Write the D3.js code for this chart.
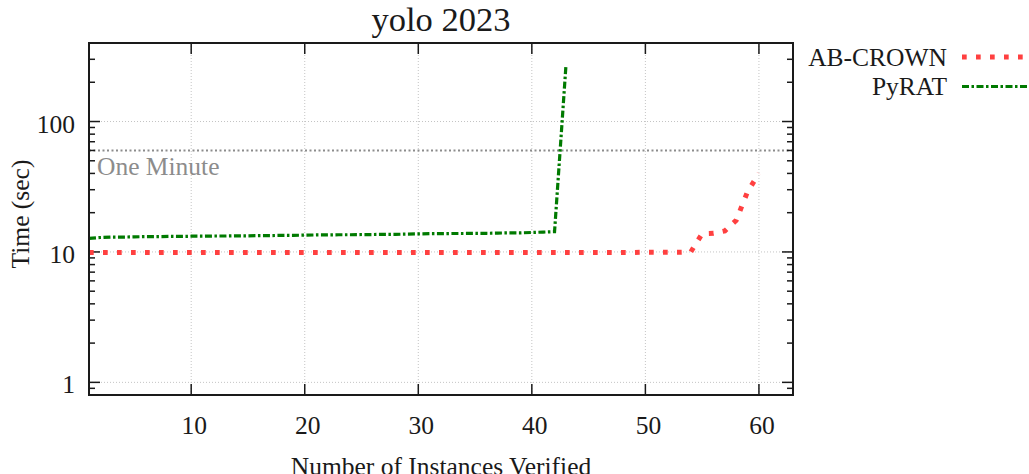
<!DOCTYPE html>
<html>
<head>
<meta charset="utf-8">
<script src="https://cdn.jsdelivr.net/npm/d3@7"></script>
<style>
  body { margin: 0; background: #fff; }
  text { font-family: "Liberation Serif", "DejaVu Serif", serif; fill: #1a1a1a; }
</style>
</head>
<body>
<svg id="chart" width="1029" height="474"></svg>
<script>
// time (sec) to verify the n-th instance, sorted
const abcrownTimes = [
  9.9, 9.9, 9.9, 9.9, 9.9, 9.9, 9.9, 9.9, 9.9, 9.9,
  9.9, 9.9, 9.9, 9.9, 9.9, 9.9, 9.9, 9.9, 9.9, 9.9,
  9.9, 9.9, 9.9, 9.9, 9.9, 9.9, 9.9, 9.9, 9.9, 9.9,
  9.9, 9.9, 9.9, 9.9, 9.9, 9.9, 9.9, 9.9, 9.9, 9.9,
  9.9, 9.9, 9.9, 9.9, 9.9, 9.9, 9.9, 9.9, 9.9, 9.95,
  9.95, 9.95, 9.95, 10.0, 13.8, 13.9, 14.5, 17.5, 29.0, 40.0
];
const pyratTimes = [
  12.7, 12.9, 13.0, 13.0, 13.05, 13.1, 13.1, 13.15, 13.15, 13.2,
  13.2, 13.25, 13.25, 13.3, 13.3, 13.35, 13.35, 13.4, 13.4, 13.45,
  13.5, 13.5, 13.55, 13.55, 13.6, 13.6, 13.65, 13.65, 13.7, 13.75,
  13.8, 13.8, 13.85, 13.85, 13.9, 13.9, 13.95, 14.0, 14.0, 14.1,
  14.2, 14.3, 265
];
const seriesNames = ["AB-CROWN", "PyRAT"];
const xTicks = [10, 20, 30, 40, 50, 60];
const yTicks = [1, 10, 100];
const oneMinute = 60;

const svg = d3.select("#chart");
const plot = { left: 89, right: 793, top: 43, bottom: 395 };

const x = d3.scaleLinear().domain([1, 63]).range([plot.left, plot.right]);
const y = d3.scaleLog().domain([0.8, 400]).range([plot.bottom, plot.top]);

// minor log ticks inside the domain
const yMinor = [];
[0.1, 1, 10, 100].forEach(d => {
  for (let k = 2; k <= 9; k++) {
    const v = +(d * k).toFixed(3);
    if (v >= 0.8 && v <= 400 && !yTicks.includes(v)) yMinor.push(v);
  }
});

// grid
const grid = svg.append("g").attr("stroke", "#c4c4c4").attr("stroke-width", 1)
  .attr("stroke-dasharray", "1,2");
xTicks.forEach(t => grid.append("line")
  .attr("x1", x(t)).attr("x2", x(t)).attr("y1", plot.top).attr("y2", plot.bottom));
yTicks.forEach(t => grid.append("line")
  .attr("x1", plot.left).attr("x2", plot.right).attr("y1", y(t)).attr("y2", y(t)));

// one minute line
svg.append("line")
  .attr("x1", plot.left).attr("x2", plot.right)
  .attr("y1", y(oneMinute)).attr("y2", y(oneMinute))
  .attr("stroke", "#8c8c8c").attr("stroke-width", 2)
  .attr("stroke-dasharray", "2,2.5");
svg.append("text")
  .attr("x", plot.left + 8).attr("y", y(oneMinute) + 25)
  .attr("font-size", "25.5px").style("fill", "#8c8c8c")
  .text("One Minute");

// axes: ticks inward, mirrored on all sides
const axes = svg.append("g").attr("stroke", "#1a1a1a").attr("stroke-width", 1.5);
xTicks.forEach(t => {
  axes.append("line").attr("x1", x(t)).attr("x2", x(t))
    .attr("y1", plot.bottom).attr("y2", plot.bottom - 11);
  axes.append("line").attr("x1", x(t)).attr("x2", x(t))
    .attr("y1", plot.top).attr("y2", plot.top + 11);
});
yTicks.forEach(t => {
  axes.append("line").attr("x1", plot.left).attr("x2", plot.left + 11)
    .attr("y1", y(t)).attr("y2", y(t));
  axes.append("line").attr("x1", plot.right).attr("x2", plot.right - 11)
    .attr("y1", y(t)).attr("y2", y(t));
});
yMinor.forEach(t => {
  axes.append("line").attr("x1", plot.left).attr("x2", plot.left + 6)
    .attr("y1", y(t)).attr("y2", y(t));
  axes.append("line").attr("x1", plot.right).attr("x2", plot.right - 6)
    .attr("y1", y(t)).attr("y2", y(t));
});

// tick labels
svg.append("g").selectAll("text").data(xTicks).join("text")
  .attr("x", d => x(d) + 3).attr("y", plot.bottom + 39)
  .attr("text-anchor", "middle").attr("font-size", "25.5px")
  .text(d => d);
svg.append("g").selectAll("text").data(yTicks).join("text")
  .attr("x", plot.left - 14).attr("y", d => y(d) + 11)
  .attr("text-anchor", "end").attr("font-size", "25.5px")
  .text(d => d);

// series
const line = d3.line().x((d, i) => x(i + 1)).y(d => y(d));
svg.append("path").datum(pyratTimes)
  .attr("d", line).attr("fill", "none")
  .attr("stroke", "#007a00").attr("stroke-width", 3.2)
  .attr("stroke-dasharray", "7,2.5,2.5,2.5");
svg.append("path").datum(abcrownTimes)
  .attr("d", line).attr("fill", "none")
  .attr("stroke", "#ff4040").attr("stroke-width", 5)
  .attr("stroke-dasharray", "4.7,9.3");

// frame
svg.append("rect")
  .attr("x", plot.left).attr("y", plot.top)
  .attr("width", plot.right - plot.left).attr("height", plot.bottom - plot.top)
  .attr("fill", "none").attr("stroke", "#1a1a1a").attr("stroke-width", 2);

// title and axis labels
svg.append("text")
  .attr("x", (plot.left + plot.right) / 2).attr("y", 31)
  .attr("text-anchor", "middle").attr("font-size", "34.5px")
  .text("yolo 2023");
svg.append("text")
  .attr("x", (plot.left + plot.right) / 2).attr("y", 475)
  .attr("text-anchor", "middle").attr("font-size", "25.5px")
  .text("Number of Instances Verified");
svg.append("text")
  .attr("transform", `translate(29, ${(plot.top + plot.bottom) / 2 - 5}) rotate(-90)`)
  .attr("text-anchor", "middle").attr("font-size", "25.5px")
  .text("Time (sec)");

// legend
const legendStyles = [
  { color: "#ff4040", width: 5, dash: "4.7,9.3" },
  { color: "#007a00", width: 3.2, dash: "7,2.5,2.5,2.5" }
];
const legend = svg.append("g");
seriesNames.forEach((name, i) => {
  const ly = 57 + i * 29.5;
  legend.append("text")
    .attr("x", 947).attr("y", ly + 8.5)
    .attr("text-anchor", "end").attr("font-size", "25.5px")
    .text(name);
  legend.append("line")
    .attr("x1", 962).attr("x2", 1040).attr("y1", ly).attr("y2", ly)
    .attr("stroke", legendStyles[i].color)
    .attr("stroke-width", legendStyles[i].width)
    .attr("stroke-dasharray", legendStyles[i].dash);
});
</script>
</body>
</html>
